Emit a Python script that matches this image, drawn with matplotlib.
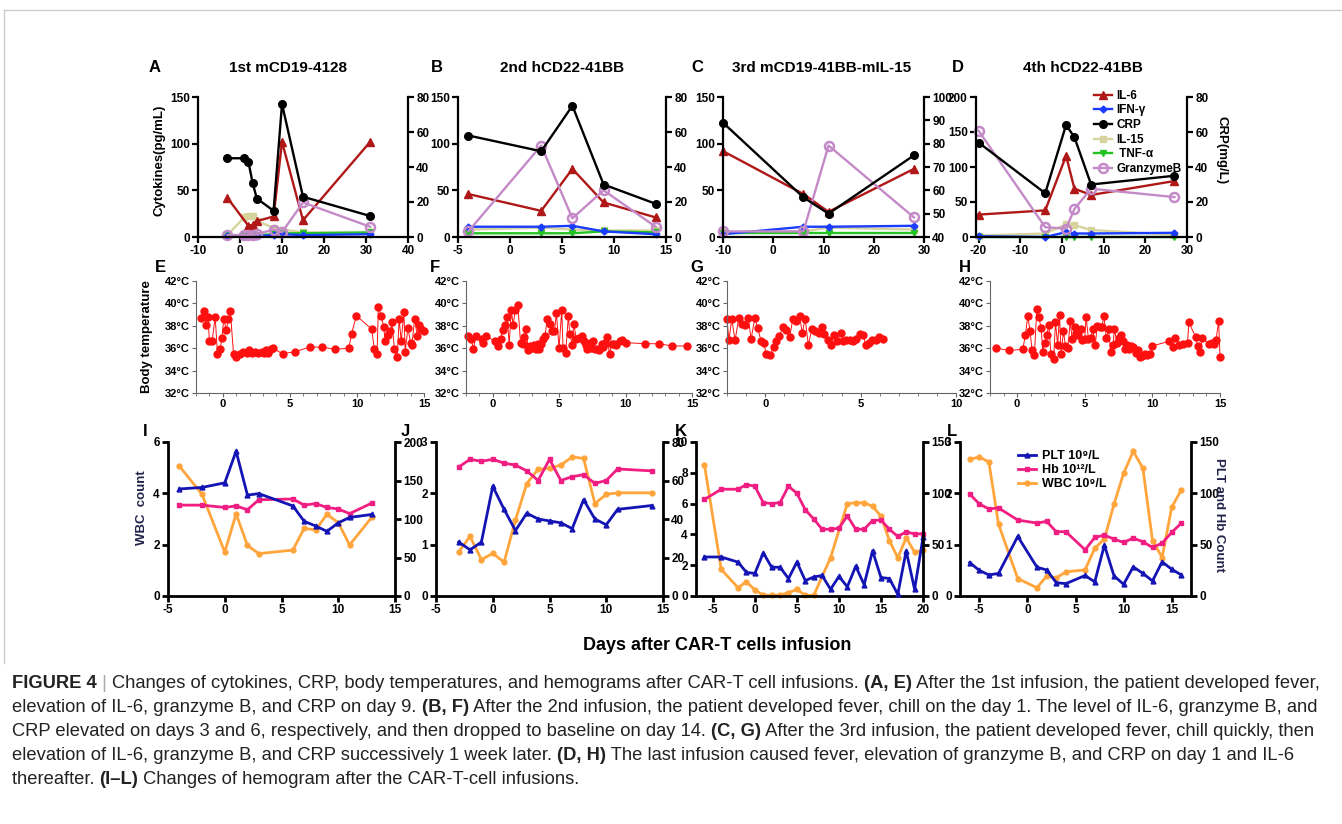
import matplotlib
matplotlib.use("Agg")
import matplotlib.pyplot as plt
from matplotlib.lines import Line2D
from matplotlib.transforms import IdentityTransform

plt.rcParams['font.family'] = ['Liberation Sans', 'DejaVu Sans']
plt.rcParams['font.weight'] = 'bold'
plt.rcParams['axes.unicode_minus'] = False

W, H = 1342, 824

# ---------------- top row: cytokines (left) and CRP (right) ----------------
a_days = [-3, 1, 2, 3, 4, 8, 10, 15, 31]
a_il6_days = [-3, 2, 3, 4, 8, 10, 15, 31]
a_il6 = [42, 12, 13, 17, 22, 102, 18, 102]
a_ifn = [1, 1, 1, 1, 1, 2, 3, 2, 3]
a_crp = [45, 45, 43, 31, 22, 15, 76, 23, 12]
a_il15 = [2, 21, 22, 22, 17, 10, 8, 5, 4]
a_tnf = [2, 2, 2, 2, 2, 3, 4, 4, 5]
a_gzb = [2, 2, 2, 2, 3, 8, 5, 37, 11]

b_days = [-4, 3, 6, 9, 14]
b_il6 = [46, 28, 73, 37, 21]
b_ifn = [11, 11, 12, 6, 3]
b_crp = [58, 49, 75, 30, 19]
b_il15 = [8, 10, 8, 7, 7]
b_tnf = [4, 4, 4, 6, 5]
b_gzb = [6, 98, 20, 50, 11]

c_days = [-10, 6, 11, 28]
c_il6 = [92, 46, 27, 73]
c_ifn = [3, 11, 11, 12]
c_crp = [89, 57, 50, 75]
c_il15 = [5, 6, 10, 8]
c_tnf = [4, 4, 4, 4]
c_gzb = [6, 6, 98, 21]

d_days = [-20, -4, 1, 3, 7, 27]
d_il6 = [32, 38, 116, 69, 60, 80]
d_ifn = [1, 0, 7, 5, 5, 6]
d_crp = [54, 25, 64, 57, 30, 35]
d_il15 = [2, 5, 18, 17, 10, 3]
d_tnf = [0, 0, 0, 0, 0, 0]
d_gzb = [152, 14, 12, 40, 69, 57]

# ---------------- middle row: body temperature ----------------
e_day = [-1.6, -1.4, -1.25, -1.1, -1.0, -0.8, -0.57, -0.4, -0.2, -0.07, 0.07, 0.26, 0.4, 0.56,
         0.8, 1.0, 1.25, 1.5, 1.77, 1.97, 2.2, 2.4, 2.6, 2.9, 3.1, 3.2, 3.4, 3.6, 3.75, 4.45,
         5.4, 6.5, 7.4, 8.4, 9.4, 9.6, 9.96, 11.1, 11.3, 11.5, 11.6, 11.8, 12.0, 12.1, 12.3,
         12.5, 12.6, 12.8, 13.0, 13.15, 13.3, 13.5, 13.6, 13.8, 14.0, 14.1, 14.3, 14.5, 14.6,
         14.8, 15.0]
e_temp = [38.7, 39.3, 38.1, 38.8, 36.6, 36.6, 38.8, 35.5, 35.9, 36.9, 38.6, 37.6, 38.6, 39.3,
          35.5, 35.2, 35.5, 35.7, 35.6, 35.8, 35.6, 35.7, 35.6, 35.7, 35.6, 35.8, 35.6, 35.9,
          36.0, 35.5, 35.7, 36.1, 36.1, 35.9, 36.0, 37.3, 38.9, 37.7, 35.9, 35.5, 39.7, 38.9,
          37.9, 36.6, 37.2, 37.5, 38.3, 35.9, 35.2, 38.6, 36.6, 39.2, 35.7, 37.8, 36.5, 36.3,
          38.6, 37.1, 38.1, 37.7, 37.5]

f_day = [-1.86, -1.6, -1.44, -1.25, -0.8, -0.7, -0.47, 0.2, 0.4, 0.6, 0.75, 0.95, 1.1, 1.25,
         1.4, 1.55, 1.7, 1.9, 2.1, 2.3, 2.4, 2.5, 2.7, 2.85, 3.0, 3.1, 3.25, 3.4, 3.5, 3.65,
         3.8, 3.95, 4.1, 4.3, 4.45, 4.65, 4.8, 5.0, 5.2, 5.3, 5.5, 5.7, 5.8, 6.0, 6.1, 6.3,
         6.5, 6.7, 6.85, 7.0, 7.1, 7.3, 7.4, 7.55, 7.7, 7.9, 8.0, 8.2, 8.3, 8.45, 8.6, 8.8,
         8.95, 9.15, 9.3, 9.55, 9.7, 10.0, 11.5, 12.5, 13.5, 14.6]
f_temp = [37.1, 36.8, 35.9, 37.1, 36.8, 36.5, 37.1, 36.6, 36.2, 36.8, 37.6, 38.1, 38.8, 36.3,
          39.4, 38.1, 39.4, 39.9, 36.5, 36.4, 37.0, 37.7, 35.8, 36.2, 36.0, 36.3, 35.9, 36.4,
          35.9, 36.4, 36.8, 37.1, 38.6, 38.2, 37.5, 37.5, 39.1, 36.0, 39.4, 36.0, 35.6, 38.9,
          37.3, 36.3, 38.2, 36.8, 36.9, 37.1, 36.6, 36.3, 35.9, 36.5, 36.0, 36.6, 35.9, 35.9,
          35.8, 36.4, 36.1, 36.5, 37.0, 35.5, 36.4, 36.4, 36.3, 36.6, 36.7, 36.5, 36.4, 36.4,
          36.2, 36.2]

g_day = [-2.0, -1.9, -1.75, -1.58, -1.38, -1.23, -1.07, -0.88, -0.74, -0.54, -0.39, -0.21,
         -0.07, 0.05, 0.26, 0.44, 0.58, 0.75, 0.93, 1.1, 1.28, 1.45, 1.63, 1.8, 1.94, 2.1,
         2.26, 2.45, 2.63, 2.8, 2.96, 3.1, 3.3, 3.47, 3.6, 3.77, 3.96, 4.1, 4.26, 4.43, 4.6,
         4.78, 4.96, 5.13, 5.27, 5.45, 5.6, 5.8, 5.97, 6.15]
g_temp = [38.6, 36.7, 38.6, 36.7, 38.7, 38.2, 38.1, 38.7, 36.8, 38.7, 37.8, 36.6, 36.5, 35.5,
          35.4, 36.1, 36.6, 37.1, 37.9, 37.6, 37.0, 38.6, 38.4, 38.9, 37.4, 38.6, 36.3, 37.7,
          37.5, 37.4, 37.9, 37.3, 36.7, 36.3, 37.2, 36.6, 37.4, 36.6, 36.7, 36.7, 36.6, 36.8,
          37.3, 37.2, 36.3, 36.5, 36.7, 36.7, 37.0, 36.8]

h_day = [-1.56, -0.57, 0.42, 0.62, 0.79, 0.96, 1.11, 1.28, 1.46, 1.6, 1.78, 1.9, 2.05, 2.2,
         2.35, 2.5, 2.7, 2.84, 3.0, 3.14, 3.26, 3.43, 3.58, 3.75, 3.93, 4.07, 4.25, 4.37, 4.5,
         4.7, 4.8, 5.0, 5.1, 5.28, 5.43, 5.6, 5.78, 5.93, 6.1, 6.27, 6.42, 6.6, 6.77, 6.91,
         7.09, 7.2, 7.38, 7.53, 7.65, 7.83, 7.95, 8.12, 8.27, 8.44, 8.6, 8.77, 8.94, 9.06,
         9.26, 9.43, 9.63, 9.85, 10.0, 11.2, 11.5, 11.7, 12.0, 12.3, 12.6, 12.7, 13.2, 13.35,
         13.5, 13.7, 14.15, 14.4, 14.55, 14.7, 14.9, 15.0]
h_temp = [36.0, 35.8, 35.9, 37.2, 38.9, 37.5, 35.8, 35.4, 39.5, 38.8, 37.8, 35.7, 36.5, 37.2,
          38.1, 35.5, 35.0, 38.3, 36.3, 39.0, 35.5, 37.5, 36.2, 36.0, 38.4, 36.8, 37.9, 37.4,
          37.2, 37.7, 36.7, 36.8, 38.8, 36.8, 36.9, 37.7, 36.3, 38.0, 37.9, 37.9, 38.9, 36.9,
          37.7, 35.7, 36.3, 37.7, 36.5, 36.9, 37.2, 36.6, 35.9, 36.3, 35.9, 36.2, 36.1, 35.6,
          35.8, 35.2, 35.3, 35.5, 35.4, 35.5, 36.2, 36.6, 36.1, 36.9, 36.3, 36.4, 36.5, 38.3,
          37.0, 36.2, 35.7, 36.9, 36.4, 36.5, 36.4, 36.7, 38.4, 35.2]

# ---------------- bottom row: hemogram ----------------
i_days = [-4, -2, 0, 1, 2, 3, 6, 7, 8, 9, 10, 11, 13]
i_plt = [139, 141, 147, 188, 131, 133, 117, 97, 91, 84, 95, 102, 106]
i_hb = [118, 118, 115, 117, 112, 125, 126, 118, 120, 115, 113, 107, 121]
i_wbc = [5.06, 3.96, 1.71, 3.2, 1.97, 1.65, 1.79, 2.64, 2.57, 3.18, 2.86, 1.99, 3.09]

j_days = [-3, -2, -1, 0, 1, 2, 3, 4, 5, 6, 7, 8, 9, 10, 11, 14]
j_plt = [28, 24, 28, 57, 45, 34, 43, 40, 39, 38, 35, 50, 40, 37, 45, 47]
j_hb = [67, 71, 70, 71, 69, 68, 65, 60, 71, 60, 62, 63, 58.5, 60, 66, 65]
j_wbc = [0.86, 1.16, 0.71, 0.83, 0.66, 1.48, 2.19, 2.47, 2.49, 2.55, 2.71, 2.68, 1.8, 1.98,
         2.01, 2.01]

k_days = [-6, -4, -2, -1, 0, 1, 2, 3, 4, 5, 6, 7, 8, 9, 10, 11, 12, 13, 14, 15, 16, 17, 18,
          19, 20]
k_plt = [38, 38, 33, 23, 22, 42, 28, 28, 17, 33, 15, 18.5, 20, 6.5, 19, 9, 29, 11, 44, 18, 17,
         1.6, 44, 6.5, 57]
k_hb = [94, 104, 104, 108.5, 107, 91, 90, 91, 107, 100, 84, 75, 65, 65, 66, 78, 65, 65, 73.5,
        74, 65, 58, 62.5, 60.5, 60.5]
k_wbc_days = [-6, -4, -2, -1, 0, 1, 2, 3, 4, 5, 6, 7, 9, 11, 12, 13, 14, 15, 16, 17, 18, 19,
              20]
k_wbc = [8.53, 1.73, 0.54, 0.93, 0.39, 0.06, 0.04, 0.06, 0.22, 0.43, 0.04, 0.04, 2.48, 6.0,
         6.05, 6.05, 5.83, 5.18, 3.6, 2.48, 3.78, 2.85, 2.96]

l_days = [-6, -5, -4, -3, -1, 1, 2, 3, 4, 6, 7, 8, 9, 10, 11, 12, 13, 14, 15, 16]
l_plt = [32.6, 25, 20.5, 22, 58, 28, 25.4, 13, 12, 20, 13.7, 49.6, 19.6, 11.4, 28.4, 22, 14.7,
         33.3, 26, 20.5]
l_hb = [99.4, 89.7, 84.8, 85.8, 74, 71, 72.7, 62.6, 62.6, 45, 57, 59.3, 55.4, 52.2, 56.4, 52.8,
        47.3, 51.5, 62, 71]
l_wbc = [2.66, 2.71, 2.61, 1.4, 0.34, 0.16, 0.39, 0.35, 0.47, 0.51, 0.93, 1.11, 1.79, 2.39,
         2.82, 2.49, 1.08, 0.75, 1.73, 2.07]

C_IL6, C_IFN, C_CRP = '#b01818', '#1a3cff', 'black'
C_IL15, C_TNF, C_GZB = '#d6d39c', '#22c322', '#c48ac8'
C_PLT, C_HB, C_WBC = '#1414b4', '#f01e82', '#ffa53c'
C_TEMP = '#ff1010'

fig = plt.figure(figsize=(W / 100, H / 100), dpi=100)


def ax_at(l, r, t, b):
    return fig.add_axes([l / W, 1 - b / H, (r - l) / W, (b - t) / H])


def style_pair(ax, ax2, lw, size):
    ax.spines['top'].set_visible(False)
    ax.spines['right'].set_visible(False)
    for s in ['top', 'left', 'bottom']:
        ax2.spines[s].set_visible(False)
    for a in (ax, ax2):
        for s in a.spines.values():
            s.set_linewidth(lw)
        a.tick_params(direction='out', length=4, width=lw, labelsize=size, pad=2)
    ax.patch.set_visible(False)


def cyto_panel(box, days, il6, ifn, crp, il15, tnf, gzb, xlim, xticks, lyl, lyt, ryl, ryt,
               il6_days=None):
    ax = ax_at(*box)
    ax2 = ax.twinx()
    kw = dict(lw=1.7, clip_on=False)
    h15, = ax.plot(days, il15, color=C_IL15, marker='s', ms=5, **kw)
    htnf, = ax.plot(days, tnf, color=C_TNF, marker='v', ms=5, **kw)
    hifn, = ax.plot(days, ifn, color=C_IFN, marker='D', ms=3.5, **kw)
    hil6, = ax.plot(il6_days if il6_days else days, il6, color=C_IL6, marker='^', ms=5.5, **kw)
    hgzb, = ax.plot(days, gzb, color=C_GZB, marker='o', ms=6.5, mfc='none', mew=1.8, **kw)
    hcrp, = ax2.plot(days, crp, color=C_CRP, marker='o', ms=5.5, **kw)
    ax.set_xlim(*xlim)
    ax.set_xticks(xticks)
    ax.set_ylim(*lyl)
    ax.set_yticks(lyt)
    ax2.set_ylim(*ryl)
    ax2.set_yticks(ryt)
    style_pair(ax, ax2, 1.6, 8.5)
    return ax, ax2, [hil6, hifn, hcrp, h15, htnf, hgzb]


cyto_panel((198, 408, 97, 237), a_days, a_il6, a_ifn, a_crp, a_il15, a_tnf, a_gzb,
           (-10, 40), range(-10, 41, 10), (0, 150), [0, 50, 100, 150], (0, 80),
           range(0, 81, 20), il6_days=a_il6_days)
cyto_panel((458, 666, 97, 237), b_days, b_il6, b_ifn, b_crp, b_il15, b_tnf, b_gzb,
           (-5, 15), range(-5, 16, 5), (0, 150), [0, 50, 100, 150], (0, 80),
           range(0, 81, 20))
cyto_panel((723, 924, 97, 237), c_days, c_il6, c_ifn, c_crp, c_il15, c_tnf, c_gzb,
           (-10, 30), range(-10, 31, 10), (0, 150), [0, 50, 100, 150], (40, 100),
           range(40, 101, 10))
axd, axd2, hd = cyto_panel((976, 1187, 97, 237), d_days, d_il6, d_ifn, d_crp, d_il15, d_tnf,
                           d_gzb, (-20.6, 30), range(-20, 31, 10), (0, 200),
                           range(0, 201, 50), (0, 80), range(0, 81, 20))
axd2.legend(hd, ['IL-6', 'IFN-γ', 'CRP', 'IL-15', ' TNF-α', 'GranzymeB'], loc='upper left',
            bbox_to_anchor=(1088 / W, 1 - 84 / H), bbox_transform=fig.transFigure,
            frameon=False, fontsize=8.5, handlelength=1.5, handletextpad=0.4,
            labelspacing=0.22, borderpad=0)

fig.text(159 / W, 1 - 160 / H, 'Cytokines(pg/mL)', rotation=90, ha='center', va='center',
         fontsize=9.5)
fig.text(1222 / W, 1 - 150 / H, 'CRP(mg/L)', rotation=270, ha='center', va='center',
         fontsize=9.5)

titles = [(155, 'A', 288, '1st mCD19-4128'), (437, 'B', 562, '2nd hCD22-41BB'),
          (697, 'C', 822, '3rd mCD19-41BB-mIL-15'), (958, 'D', 1083, '4th hCD22-41BB')]
for lx, letter, tx, title in titles:
    fig.text(lx / W, 1 - 68 / H, letter, ha='center', va='center', fontsize=12)
    fig.text(tx / W, 1 - 68 / H, title, ha='center', va='center', fontsize=11)


# ---------------- middle row ----------------
def temp_panel(box, day, temp, xlim, xticks):
    ax = ax_at(*box)
    ax.plot(day, temp, color=C_TEMP, lw=0.7, marker='o', ms=5, clip_on=False)
    ax.set_xlim(*xlim)
    ax.set_ylim(32, 42)
    ax.set_xticks(xticks)
    ax.set_xticks(range(int(xlim[0]), int(xlim[1]) + 1), minor=True)
    ax.set_yticks(range(32, 43, 2))
    ax.set_yticklabels([f'{v}°C' for v in range(32, 43, 2)])
    for s in ['top', 'right']:
        ax.spines[s].set_visible(False)
    for s in ['left', 'bottom']:
        ax.spines[s].set_linewidth(0.8)
        ax.spines[s].set_color('#666666')
    ax.tick_params(direction='out', length=3, width=0.8, color='#666666', labelsize=8, pad=1.5)
    ax.tick_params(which='minor', direction='out', length=2, width=0.6, color='#666666')
    ax.patch.set_visible(False)
    return ax


temp_panel((196, 424, 281, 393), e_day, e_temp, (-2, 15), [0, 5, 10, 15])
temp_panel((466, 692, 281, 393), f_day, f_temp, (-2, 15), [0, 5, 10, 15])
temp_panel((727, 956, 281, 393), g_day, g_temp, (-2, 10), [0, 5, 10])
temp_panel((990, 1220, 281, 393), h_day, h_temp, (-2, 15), [0, 5, 10, 15])
fig.text(147 / W, 1 - 337 / H, 'Body temperature', rotation=90, ha='center', va='center',
         fontsize=9.5)
for x, letter in [(160, 'E'), (435, 'F'), (697, 'G'), (965, 'H')]:
    fig.text(x / W, 1 - 267 / H, letter, ha='center', va='center', fontsize=12)


# ---------------- bottom row ----------------
def hemo_panel(box, days, plt_v, hb, wbc, xlim, xticks, lyl, lyt, ryl, ryt, wbc_days=None):
    ax = ax_at(*box)
    ax2 = ax.twinx()
    kw = dict(lw=2, clip_on=False)
    hw, = ax.plot(wbc_days if wbc_days else days, wbc, color=C_WBC, marker='o', ms=3.5, **kw)
    hh, = ax2.plot(days, hb, color=C_HB, marker='s', ms=3.5, **kw)
    hp, = ax2.plot(days, plt_v, color=C_PLT, marker='^', ms=3.5, **kw)
    ax.set_xlim(*xlim)
    ax.set_xticks(xticks)
    ax.set_ylim(*lyl)
    ax.set_yticks(lyt)
    ax2.set_ylim(*ryl)
    ax2.set_yticks(ryt)
    style_pair(ax, ax2, 2, 8.5)
    return ax, ax2, [hp, hh, hw]


hemo_panel((168, 395, 442, 596), i_days, i_plt, i_hb, i_wbc, (-5, 15), range(-5, 16, 5),
           (0, 6), [0, 2, 4, 6], (0, 200), range(0, 201, 50))
hemo_panel((436, 663, 442, 596), j_days, j_plt, j_hb, j_wbc, (-5, 15), range(-5, 16, 5),
           (0, 3), [0, 1, 2, 3], (0, 80), range(0, 81, 20))
hemo_panel((696, 923, 442, 596), k_days, k_plt, k_hb, k_wbc, (-7, 20), range(-5, 21, 5),
           (0, 10), range(0, 11, 2), (0, 150), [0, 50, 100, 150], wbc_days=k_wbc_days)
axl, axl2, hl = hemo_panel((960, 1191, 442, 596), l_days, l_plt, l_hb, l_wbc, (-7, 17),
                           range(-5, 16, 5), (0, 3), [0, 1, 2, 3], (0, 150), [0, 50, 100, 150])
axl2.legend(hl, ['PLT 10⁹/L', 'Hb 10¹²/L', 'WBC 10⁹/L'], loc='upper left',
            bbox_to_anchor=(1012 / W, 1 - 444 / H), bbox_transform=fig.transFigure,
            frameon=False, fontsize=9, handlelength=1.4, handletextpad=0.5,
            labelspacing=0.15, borderpad=0)
fig.text(142 / W, 1 - 508 / H, 'WBC  count', rotation=90, ha='center', va='center',
         fontsize=9.5, color='#22224a')
fig.text(1219 / W, 1 - 515 / H, 'PLT and Hb Count', rotation=270, ha='center', va='center',
         fontsize=9.5, color='#22224a')
for x, letter in [(145, 'I'), (405, 'J'), (681, 'K'), (952, 'L')]:
    fig.text(x / W, 1 - 432 / H, letter, ha='center', va='center', fontsize=12)

fig.text(717 / W, 1 - 645 / H, 'Days after CAR-T cells infusion', ha='center', va='center',
         fontsize=13)

# frame lines
fig.add_artist(Line2D([4 / W, 1], [1 - 10 / H, 1 - 10 / H], color='#cccccc', lw=1))
fig.add_artist(Line2D([4 / W, 4 / W], [1 - 10 / H, 1 - 663 / H], color='#cccccc', lw=1))

# ---------------- caption with bold runs ----------------
ink = '#222222'
caption = [
    [("FIGURE 4", True, ink), (" | ", False, '#aaaaaa'),
     ("Changes of cytokines, CRP, body temperatures, and hemograms after CAR-T cell infusions. ",
      False, ink), ("(A, E)", True, ink),
     (" After the 1st infusion, the patient developed fever,", False, ink)],
    [("elevation of IL-6, granzyme B, and CRP on day 9. ", False, ink),
     ("(B, F)", True, ink),
     (" After the 2nd infusion, the patient developed fever, chill on the day 1. The level of "
      "IL-6, granzyme B, and", False, ink)],
    [("CRP elevated on days 3 and 6, respectively, and then dropped to baseline on day 14. ",
      False, ink), ("(C, G)", True, ink),
     (" After the 3rd infusion, the patient developed fever, chill quickly, then", False, ink)],
    [("elevation of IL-6, granzyme B, and CRP successively 1 week later. ", False, ink),
     ("(D, H)", True, ink),
     (" The last infusion caused fever, elevation of granzyme B, and CRP on day 1 and IL-6",
      False, ink)],
    [("thereafter. ", False, ink), ("(I–L)", True, ink),
     (" Changes of hemogram after the CAR-T-cell infusions.", False, ink)],
]
caption_y = [684, 708, 732, 756, 780]
cap_size = 13.2

renderer = fig.canvas.get_renderer()


def run_width(s, weight):
    t1 = fig.text(0, 0, s + '|', fontsize=cap_size, fontweight=weight, transform=IdentityTransform())
    t2 = fig.text(0, 0, '|', fontsize=cap_size, fontweight=weight, transform=IdentityTransform())
    w = t1.get_window_extent(renderer).width - t2.get_window_extent(renderer).width
    t1.remove()
    t2.remove()
    return w


for line, y in zip(caption, caption_y):
    x = 12
    for s, bold, col in line:
        weight = 'bold' if bold else 'normal'
        fig.text(x, H - y, s, fontsize=cap_size, fontweight=weight, color=col, va='center',
                 ha='left', transform=IdentityTransform())
        x += run_width(s, weight)

fig.savefig('out.png', dpi=100)
